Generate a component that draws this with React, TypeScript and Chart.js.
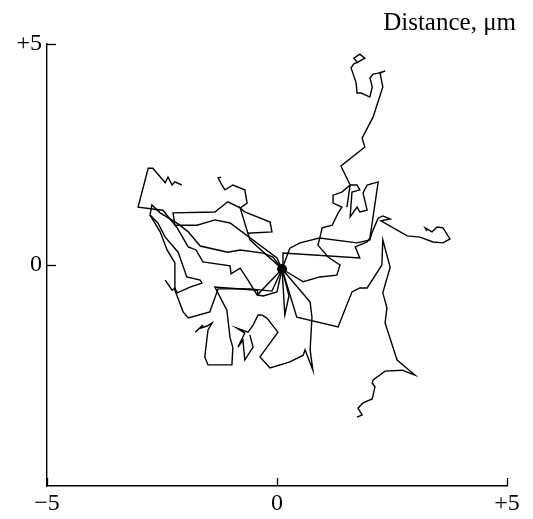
import React, { useEffect, useRef } from "react";
import { Chart, registerables } from "chart.js";

Chart.register(...registerables);

// Axis ticks and labels
const xTickValues = [-5, 0, 5];
const xTickLabels = ["−5", "0", "+5"];
const yTickValues = [-5, 0, 5];
const yTickLabels = ["", "0", "+5"];
const yTickMarks = [0, 5];
const axisTitle = "Distance, μm";

// Common start point of all cell tracks (μm)
const startPoint: [number, number][] = [[0.11, -0.09]];

// Cell trajectories, [x, y] in μm
const track1: [number, number][] = [
  [0.11, -0.09], [0.28, 0.38], [0.5, 0.5], [0.93, 0.61], [0.98, 0.84], [1.2, 0.9], [1.33, 1.18],
  [1.41, 1.31], [1.22, 1.4], [1.22, 1.58], [1.41, 1.65], [1.59, 1.81], [1.39, 2.24], [1.91, 2.67],
  [1.85, 2.87], [2.09, 3.35], [2.3, 4.03], [2.24, 4.34], [2.35, 4.39], [2.2, 4.34], [2.09, 4.32],
  [2.02, 4.23], [2.07, 4.03], [2.02, 3.8], [1.83, 3.89], [1.74, 3.89], [1.72, 4.12], [1.61, 4.46],
  [1.67, 4.55], [1.76, 4.59], [1.91, 4.68], [1.8, 4.77], [1.67, 4.68], [1.76, 4.57],
];
const track2: [number, number][] = [
  [0.11, -0.09], [0.57, -0.38], [0.93, -0.27], [1.3, -0.23], [1.37, 0], [1.11, 0.18], [0.89, 0.45],
  [0.93, 0.61], [1.74, 0.5], [2.02, 0.57], [2.07, 0.75], [2.2, 1.06], [2.3, 1.11], [2.46, 1.04],
  [2.26, 1.0], [2.83, 0.66], [3.11, 0.63], [3.39, 0.52], [3.61, 0.5], [3.76, 0.59], [3.61, 0.84],
  [3.48, 0.86], [3.37, 0.75], [3.22, 0.84], [3.26, 0.77],
];
const track3: [number, number][] = [
  [0.11, -0.09], [0.13, 0.27], [1.8, 0.16], [1.7, 0.41], [1.96, 0.52], [2.02, 0.61], [2.2, 1.88],
  [1.96, 1.81], [1.87, 1.63], [1.96, 1.24], [1.8, 1.2], [1.74, 1.31], [1.59, 1.09], [1.63, 1.65],
  [1.8, 1.7], [1.74, 1.81], [1.59, 1.81], [1.52, 1.31],
];
const track4: [number, number][] = [
  [0.11, -0.09], [0.43, -1.18], [1.33, -1.4], [1.37, -1.29], [1.63, -0.61], [1.8, -0.52], [1.96, -0.52],
  [2.17, -0.18], [2.28, 0], [2.3, 0.57], [2.46, -0.05], [2.3, -0.63], [2.39, -0.97], [2.35, -1.31],
  [2.61, -2.15], [3.0, -2.49], [2.72, -2.38], [2.35, -2.4], [2.09, -2.6], [2.07, -2.67], [2.13, -2.76],
  [2.07, -3.03], [1.87, -3.12], [1.76, -3.24], [1.85, -3.39], [1.74, -3.44],
];
const track5: [number, number][] = [
  [0.11, -0.09], [0.72, -0.84], [0.76, -1.18], [0.72, -1.92], [0.78, -2.38], [0.61, -1.92], [0.57, -2.04],
  [0.28, -2.19], [-0.15, -2.33], [-0.37, -2.08], [0.02, -1.52], [-0.22, -1.2], [-0.33, -1.13],
  [-0.41, -1.13], [-0.52, -1.36], [-0.63, -1.52], [-0.87, -1.43], [-0.7, -1.54], [-0.85, -1.86],
  [-0.74, -1.7], [-0.7, -2.15], [-0.52, -1.86], [-0.59, -1.58],
];
const track6: [number, number][] = [
  [0.11, -0.09], [0.17, -1.13], [0.26, -0.7], [0.13, -0.16],
];
const track7: [number, number][] = [
  [0.11, -0.09], [0, -0.61], [-0.3, -0.7], [-0.41, -0.68], [-0.43, -0.57], [-1.35, -0.5], [-1.09, -1.02],
  [-1.02, -1.65], [-0.96, -1.86], [-0.98, -2.26], [-1.5, -2.26], [-1.57, -2.08], [-1.5, -1.47],
  [-1.41, -1.31], [-1.52, -1.38], [-1.67, -1.43], [-1.61, -1.36], [-1.78, -1.52],
];
const track8: [number, number][] = [
  [0.11, -0.09], [-0.43, -0.68], [-0.63, -0.34], [-0.8, -0.07], [-1.0, -0.2], [-1.02, -0.02],
  [-1.61, 0.07], [-1.76, 0.34], [-1.93, 0.41], [-2.17, 0.84], [-2.48, 1.24], [-3.02, 1.31],
  [-2.8, 2.19], [-2.7, 2.19], [-2.43, 1.86], [-2.37, 1.99], [-2.28, 1.81], [-2.22, 1.88], [-2.07, 1.81],
];
const track9: [number, number][] = [
  [0.11, -0.09], [-0.09, 0.18], [-0.3, 0.27], [-0.8, 0.34], [-1.07, 0.29], [-1.67, 0.43], [-1.93, 0.75],
  [-2.15, 0.93], [-2.54, 1.18], [-2.72, 1.36], [-2.76, 1.13], [-2.59, 0.95], [-2.43, 0.63],
  [-2.15, 0.29], [-1.96, -0.27], [-1.67, -0.34], [-1.63, -0.41], [-1.89, -0.5], [-2.17, -0.63],
  [-2.22, -0.52], [-2.28, -0.57], [-2.43, -0.34],
];
const track10: [number, number][] = [
  [0.11, -0.09], [0, 0.16], [-1.02, 0.95], [-1.35, 1.02], [-1.74, 0.9], [-2.22, 0.9], [-2.26, 1.18],
  [-1.35, 1.2], [-1.07, 1.43], [-0.8, 1.29], [-0.65, 1.4], [-0.7, 1.7], [-0.96, 1.81], [-1.13, 1.7],
  [-1.2, 1.81], [-1.28, 1.97], [-1.22, 1.99],
];
const track11: [number, number][] = [
  [0.11, -0.09], [-0.59, 0.57], [-0.8, 1.29], [-0.7, 1.2], [-0.15, 0.97], [-0.11, 0.75], [-0.65, 0.72],
];
const track12: [number, number][] = [
  [0.11, -0.09], [-0.11, -0.59], [-0.59, -0.54], [-1.28, -0.54], [-1.46, -1.06], [-1.93, -1.2],
  [-2.04, -1.06], [-2.22, -0.57], [-2.22, 0.05], [-2.39, 0.34], [-2.54, 0.75], [-2.76, 1.13],
];

const tracks = [track1, track2, track3, track4, track5, track6, track7, track8, track9, track10, track11, track12];

const decorPlugin = {
  id: "decor",
  afterDraw(chart: any) {
    const { ctx, chartArea, scales } = chart;
    ctx.save();
    ctx.strokeStyle = "#000";
    ctx.lineWidth = 1.3;
    for (const v of xTickValues) {
      const px = Math.round(scales.x.getPixelForValue(v)) + 0.5;
      ctx.beginPath();
      ctx.moveTo(px, chartArea.bottom);
      ctx.lineTo(px, chartArea.bottom - 8);
      ctx.stroke();
    }
    for (const v of yTickMarks) {
      const py = Math.round(scales.y.getPixelForValue(v)) + 0.5;
      ctx.beginPath();
      ctx.moveTo(chartArea.left, py);
      ctx.lineTo(chartArea.left + 9, py);
      ctx.stroke();
    }
    ctx.fillStyle = "#000";
    ctx.font = '25px "Liberation Serif", "Times New Roman", serif';
    ctx.textAlign = "right";
    ctx.textBaseline = "alphabetic";
    ctx.fillText(axisTitle, 516, 30);
    ctx.restore();
  },
};

export default function App() {
  const canvasRef = useRef<HTMLCanvasElement | null>(null);

  useEffect(() => {
    const canvas = canvasRef.current;
    if (!canvas) return;
    const datasets: any[] = tracks.map((t) => ({
      type: "line",
      data: t.map(([x, y]) => ({ x, y })),
      borderColor: "#000",
      borderWidth: 1.4,
      pointRadius: 0,
      fill: false,
      tension: 0,
      showLine: true,
    }));
    datasets.push({
      type: "scatter",
      data: startPoint.map(([x, y]) => ({ x, y })),
      backgroundColor: "#000",
      borderColor: "#000",
      pointRadius: 4.5,
      showLine: false,
    });

    const font = { family: '"Liberation Serif", "Times New Roman", serif', size: 24 };

    const chart = new Chart(canvas, {
      type: "scatter",
      data: { datasets },
      options: {
        animation: false,
        responsive: false,
        devicePixelRatio: 1,
        layout: { padding: { top: 44, right: 26, left: 0, bottom: 0 } },
        plugins: { legend: { display: false }, tooltip: { enabled: false }, title: { display: false } },
        scales: {
          x: {
            type: "linear",
            min: -5,
            max: 5,
            afterFit: (s: any) => { s.height = 33; },
            afterBuildTicks: (s: any) => { s.ticks = xTickValues.map((v) => ({ value: v })); },
            ticks: {
              color: "#000",
              font,
              padding: 3,
              maxRotation: 0,
              callback: (v: any) => xTickLabels[xTickValues.indexOf(Number(v))] ?? "",
            },
            grid: { drawOnChartArea: false, drawTicks: false },
            border: { display: true, color: "#000", width: 1.4 },
          },
          y: {
            type: "linear",
            min: -5,
            max: 5,
            afterFit: (s: any) => { s.width = 47; },
            afterBuildTicks: (s: any) => { s.ticks = yTickValues.map((v) => ({ value: v })); },
            ticks: {
              color: "#000",
              font,
              padding: 5,
              callback: (v: any) => yTickLabels[yTickValues.indexOf(Number(v))] ?? "",
            },
            grid: { drawOnChartArea: false, drawTicks: false },
            border: { display: true, color: "#000", width: 1.4 },
          },
        },
      },
      plugins: [decorPlugin],
    } as any);
    return () => chart.destroy();
  }, []);

  return (
    <div style={{ position: "fixed", left: 0, top: 0, width: 533, height: 519, background: "#fff" }}>
      <canvas ref={canvasRef} width={533} height={519} style={{ display: "block", width: 533, height: 519 }} />
    </div>
  );
}
